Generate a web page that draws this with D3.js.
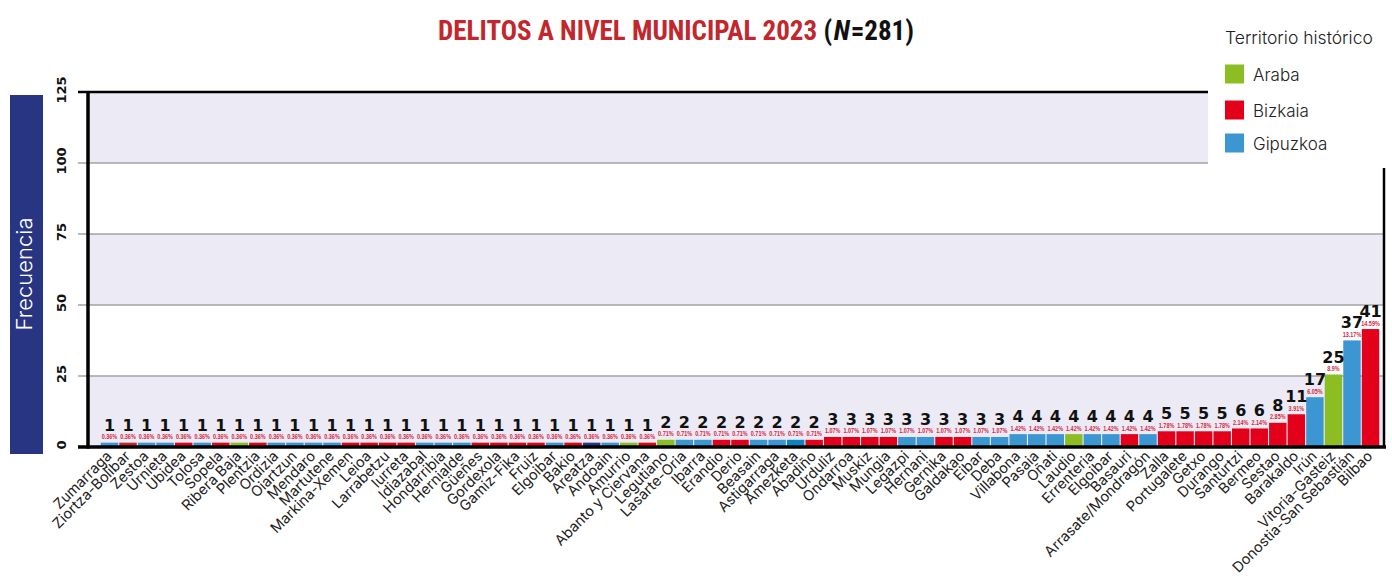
<!DOCTYPE html>
<html><head><meta charset="utf-8">
<script src="https://cdn.jsdelivr.net/npm/d3@7"></script>
<style>
html,body{margin:0;padding:0;background:#fff;}
svg{display:block;}
</style></head>
<body>
<svg id="chart" width="1392" height="576"></svg>
<script>
const categories = ["Zumarraga","Ziortza-Bolibar","Zestoa","Urnieta","Ubidea","Tolosa","Sopela","Ribera Baja","Plentzia","Ordizia","Oiartzun","Mendaro","Martutene","Markina-Xemen","Leioa","Larrabetzu","Iurreta","Idiazabal","Hondarribia","Hernialde","Güeñes","Gordexola","Gamiz-Fika","Fruiz","Elgoibar","Bakio","Areatza","Andoain","Amurrio","Abanto y Ciervana","Legutiano","Lasarte-Oria","Ibarra","Erandio","Derio","Beasain","Astigarraga","Amezketa","Abadiño","Urduliz","Ondarroa","Muskiz","Mungia","Legazpi","Hernani","Gernika","Galdakao","Eibar","Deba","Villabona","Pasaia","Oñati","Laudio","Errenteria","Elgoibar","Basauri","Arrasate/Mondragón","Zalla","Portugalete","Getxo","Durango","Santurtzi","Bermeo","Sestao","Barakaldo","Irún","Vitoria-Gasteiz","Donostia-San Sebastián","Bilbao"];
const territories = ["Gipuzkoa","Bizkaia","Gipuzkoa","Gipuzkoa","Bizkaia","Gipuzkoa","Bizkaia","Araba","Bizkaia","Gipuzkoa","Gipuzkoa","Gipuzkoa","Gipuzkoa","Bizkaia","Bizkaia","Bizkaia","Bizkaia","Gipuzkoa","Gipuzkoa","Gipuzkoa","Bizkaia","Bizkaia","Bizkaia","Bizkaia","Gipuzkoa","Bizkaia","Bizkaia","Gipuzkoa","Araba","Bizkaia","Araba","Gipuzkoa","Gipuzkoa","Bizkaia","Bizkaia","Gipuzkoa","Gipuzkoa","Gipuzkoa","Bizkaia","Bizkaia","Bizkaia","Bizkaia","Bizkaia","Gipuzkoa","Gipuzkoa","Bizkaia","Bizkaia","Gipuzkoa","Gipuzkoa","Gipuzkoa","Gipuzkoa","Gipuzkoa","Araba","Gipuzkoa","Gipuzkoa","Bizkaia","Gipuzkoa","Bizkaia","Bizkaia","Bizkaia","Bizkaia","Bizkaia","Bizkaia","Bizkaia","Bizkaia","Gipuzkoa","Araba","Gipuzkoa","Bizkaia"];
const values = [1,1,1,1,1,1,1,1,1,1,1,1,1,1,1,1,1,1,1,1,1,1,1,1,1,1,1,1,1,1,2,2,2,2,2,2,2,2,2,3,3,3,3,3,3,3,3,3,3,4,4,4,4,4,4,4,4,5,5,5,5,6,6,8,11,17,25,37,41];
const yTicks = [0,25,50,75,100,125];
const legendItems = ["Araba","Bizkaia","Gipuzkoa"];
const N = 281;
const titleText = "DELITOS A NIVEL MUNICIPAL 2023";

const data = categories.map((c,i)=>({name:c, terr:territories[i], value:values[i], idx:i}));

const colorScale = d3.scaleOrdinal().domain(legendItems).range(["#8cbd22","#e2001a","#3b96d2"]);
// individual shade variations seen in the reference
const shadeOverride = {1:"#c1272d", 26:"#283583", 37:"#0a85c4"};

const svg = d3.select("#chart");
const plotL = 89, plotR = 1384, plotT = 92, plotB = 447;

const y = d3.scaleLinear().domain([0,125]).range([plotB, plotT]);
const x = d3.scaleBand().domain(d3.range(categories.length)).range([100.2, 1379.8]).paddingInner(0.06).paddingOuter(0.03);

// Y axis title box
svg.append("rect").attr("x",10).attr("y",95).attr("width",33).attr("height",359).attr("fill","#283583");
svg.append("text").attr("transform","translate(24,274) rotate(-90)")
  .attr("text-anchor","middle").attr("dominant-baseline","central")
  .style("font-family","Inter, 'Open Sans', sans-serif").style("font-weight",300).style("font-size","22px")
  .attr("fill","#fff").text("Frecuencia");

// alternating bands
const bands = d3.pairs(yTicks);
svg.append("g").selectAll("rect").data(bands).join("rect")
  .attr("x",plotL).attr("width",plotR-plotL)
  .attr("y",d=>y(d[1])).attr("height",d=>y(d[0])-y(d[1]))
  .attr("fill",(d,i)=> i%2===0 ? "#ebeaf5" : "#ffffff");

// gridlines
svg.append("g").selectAll("line").data(yTicks.filter(t=>t>0 && t<125)).join("line")
  .attr("x1",78).attr("x2",plotR).attr("y1",d=>y(d)).attr("y2",d=>y(d))
  .attr("stroke","#a3a3a3").attr("stroke-width",1.5);

// bars
svg.append("g").selectAll("rect").data(data).join("rect")
  .attr("x",d=>x(d.idx)).attr("width",x.bandwidth())
  .attr("y",d=>y(d.value)-1.5).attr("height",d=>y(0)-y(d.value)+1.5)
  .attr("fill",d=> shadeOverride[d.idx] || colorScale(d.terr));

// value labels
const fmtPct = v => { let s = (v/N*100).toFixed(2); s = s.replace(/0+$/,'').replace(/\.$/,''); return s + "%"; };
svg.append("g").selectAll("text").data(data).join("text")
  .attr("x",d=>x(d.idx)+x.bandwidth()/2).attr("y",d=>y(d.value)-13.5)
  .attr("text-anchor","middle")
  .style("font-family","'DejaVu Sans', sans-serif").style("font-weight",700).style("font-size","16px")
  .attr("fill","#111").text(d=>d.value);
svg.append("g").selectAll("text").data(data).join("text")
  .attr("transform",d=>`translate(${x(d.idx)+x.bandwidth()/2},${y(d.value)-5}) scale(0.78,1)`)
  .attr("text-anchor","middle")
  .style("font-family","'Liberation Sans', Arial, sans-serif").style("font-weight",700).style("font-size","7px")
  .attr("fill","#d7263d").text(d=>fmtPct(d.value));

// axes lines
svg.append("line").attr("x1",78).attr("x2",plotR).attr("y1",plotT).attr("y2",plotT).attr("stroke","#000").attr("stroke-width",2.5);
svg.append("line").attr("x1",plotR).attr("x2",plotR).attr("y1",plotT).attr("y2",plotB).attr("stroke","#000").attr("stroke-width",2.5);
svg.append("line").attr("x1",88).attr("x2",88).attr("y1",plotT-1).attr("y2",plotB+1.5).attr("stroke","#000").attr("stroke-width",3.5);
svg.append("line").attr("x1",78).attr("x2",1386).attr("y1",plotB).attr("y2",plotB).attr("stroke","#000").attr("stroke-width",3.5);

// y tick labels
svg.append("g").selectAll("text").data(yTicks).join("text")
  .attr("transform",d=>`translate(66,${y(d)-2}) rotate(-90)`)
  .attr("text-anchor","middle")
  .style("font-family","'DejaVu Sans', sans-serif").style("font-weight",700).style("font-size","13px")
  .attr("fill","#111").text(d=>d);

// x labels
svg.append("g").selectAll("text").data(data).join("text")
  .attr("transform",d=>`translate(${x(d.idx)+x.bandwidth()/2+3},${plotB+10}) rotate(-45)`)
  .attr("text-anchor","end")
  .style("font-family","Inter, sans-serif").style("font-weight",400).style("font-size","14.5px")
  .attr("fill","#222").text(d=>d.name);

// title
const title = svg.append("text").attr("x",676).attr("y",40).attr("text-anchor","middle")
  .style("font-family","Roboto, sans-serif").style("font-weight",700).style("font-size","27px")
  .style("font-stretch","condensed");
title.append("tspan").attr("fill","#c1272d").text(titleText + " ");
title.append("tspan").attr("fill","#111").text("(");
title.append("tspan").attr("fill","#111").attr("dx",1.5).style("font-style","italic").text("N");
title.append("tspan").attr("fill","#111").attr("dx",1).text("=" + N + ")");

// legend
svg.append("rect").attr("x",1208).attr("y",0).attr("width",184).attr("height",168).attr("fill","#fff");
svg.append("text").attr("x",1225).attr("y",44)
  .style("font-family","Inter, sans-serif").style("font-weight",300).style("font-size","17.5px")
  .attr("fill","#222").text("Territorio histórico");
const lg = svg.append("g").selectAll("g").data(legendItems).join("g")
  .attr("transform",(d,i)=>`translate(1225,${[64.5,100.5,133.5][i]})`);
lg.append("rect").attr("width",19).attr("height",19).attr("fill",d=>colorScale(d));
lg.append("text").attr("x",28).attr("y",16.5)
  .style("font-family","Inter, sans-serif").style("font-weight",300).style("font-size","17px")
  .attr("fill","#222").text(d=>d);
</script>
</body></html>
